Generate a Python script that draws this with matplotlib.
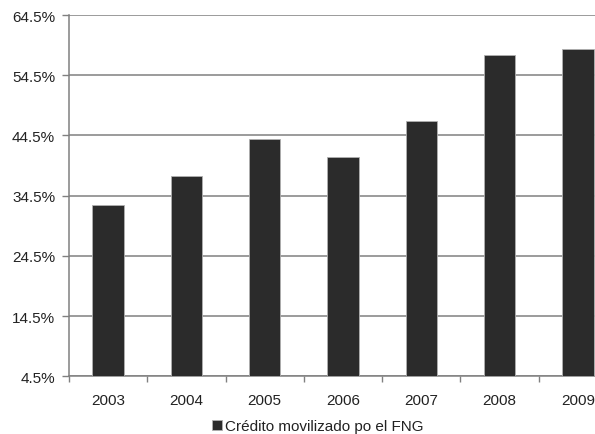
import matplotlib
matplotlib.use("Agg")
import matplotlib.pyplot as plt
from matplotlib.patches import Patch

# Share of credit mobilised by the FNG, per year
years = ["2003", "2004", "2005", "2006", "2007", "2008", "2009"]
credito = [33.0, 37.8, 43.9, 40.9, 46.9, 57.9, 58.8]
yticks = [4.5, 14.5, 24.5, 34.5, 44.5, 54.5, 64.5]

plt.rcParams["font.family"] = ["Liberation Sans", "DejaVu Sans"]

fig = plt.figure(figsize=(5.95, 4.35), dpi=100)
# the plot area runs past the right edge of the figure, so the last bar is cut
ax = fig.add_axes([69 / 595, 1 - 377.3 / 435, 548 / 595, 361.3 / 435])

x = list(range(len(years)))
ax.bar(x, credito, width=0.40, bottom=0, color="#2b2b2b",
       edgecolor="#b0b0b0", linewidth=0.6, zorder=3)

ax.set_xlim(-0.5, len(years) - 0.5)
ax.set_ylim(4.5, 64.5)
ax.set_yticks(yticks)
ax.set_yticklabels([f"{v:.1f}%" for v in yticks])
ax.yaxis.grid(True, color="#808080", linewidth=1.1, zorder=0)

# year labels sit in the middle, tick marks sit between the categories
ax.set_xticks(x)
ax.set_xticklabels(years)
ax.tick_params(axis="x", which="major", length=0, pad=12)
ax.set_xticks([i - 0.5 for i in range(len(years) + 1)], minor=True)
ax.tick_params(axis="x", which="minor", length=4, color="#808080", width=1)
ax.tick_params(axis="y", length=5, color="#808080", width=1, pad=5)
ax.tick_params(labelsize=11, labelcolor="#222222")

for side in ["top", "right"]:
    ax.spines[side].set_visible(False)
for side in ["left", "bottom"]:
    ax.spines[side].set_color("#808080")
    ax.spines[side].set_linewidth(1.1)

handle = Patch(facecolor="#2b2b2b", edgecolor="#b0b0b0", linewidth=0.6)
fig.legend([handle], ["Crédito movilizado po el FNG"], loc="center",
           bbox_to_anchor=(318 / 595, 1 - 427 / 435), frameon=False,
           fontsize=11, handlelength=0.65, handleheight=0.65,
           handletextpad=0.2, labelcolor="#222222")

fig.savefig("out.png", dpi=100)
